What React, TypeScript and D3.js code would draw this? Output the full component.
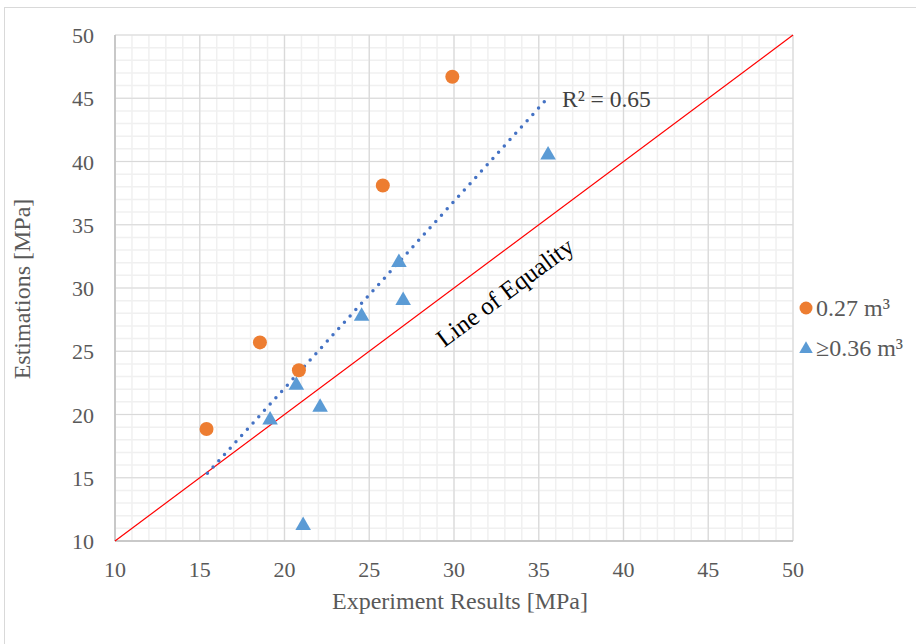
import * as d3 from 'd3'
import * as React from 'react'

//------------------------------data------------------------------
const orangeX = [15.4, 18.55, 20.85, 25.8, 29.9]
const orangeY = [18.85, 25.7, 23.5, 38.1, 46.7]
const blueX = [19.15, 20.7, 21.1, 22.1, 24.55, 26.75, 27.0, 35.55]
const blueY = [19.65, 22.4, 11.3, 20.65, 27.85, 32.1, 29.1, 40.6]
const trendX = [15.45, 35.55]
const trendY = [15.35, 45.05]
const equalityX = [10, 50]
const ticks = [10, 15, 20, 25, 30, 35, 40, 45, 50]
const legendLabels = ['0.27 m³', '≥0.36 m³']

const WIDTH = 916
const HEIGHT = 644
const M = { left: 115, top: 35, right: 793, bottom: 541 }
const FONT = '"Liberation Serif", "Times New Roman", serif'

export default function App() {
  const x = d3.scaleLinear().domain([10, 50]).range([M.left, M.right])
  const y = d3.scaleLinear().domain([10, 50]).range([M.bottom, M.top])
  const minor = d3.range(10, 51, 1)
  const tri = d3.symbol().type(d3.symbolTriangle).size(105)()
  const triSmall = d3.symbol().type(d3.symbolTriangle).size(80)()
  const line = d3.line<[number, number]>().x(d => x(d[0])).y(d => y(d[1]))
  const trendPts: [number, number][] = trendX.map((v, i) => [v, trendY[i]])
  const eqPts: [number, number][] = equalityX.map(v => [v, v])
  const angle = (Math.atan2(y(10) - y(50), x(50) - x(10)) * 180) / Math.PI

  return (
    <svg width={WIDTH} height={HEIGHT} style={{ position: 'absolute', left: 0, top: 0 }}>
      <rect x={0} y={0} width={WIDTH} height={HEIGHT} fill="#fff" />
      <rect x={4.5} y={7.5} width={WIDTH + 10} height={HEIGHT + 10} fill="none" stroke="#d9d9d9" />
      {/* minor grid */}
      {minor.map(v => (
        <g key={'m' + v}>
          <line x1={x(v)} x2={x(v)} y1={M.top} y2={M.bottom} stroke="#f0f0f0" strokeWidth={1.5} />
          <line x1={M.left} x2={M.right} y1={y(v)} y2={y(v)} stroke="#f0f0f0" strokeWidth={1.5} />
        </g>
      ))}
      {/* major grid */}
      {ticks.map(v => (
        <g key={'g' + v}>
          <line x1={x(v)} x2={x(v)} y1={M.top} y2={M.bottom} stroke="#d9d9d9" strokeWidth={1.2} />
          <line x1={M.left} x2={M.right} y1={y(v)} y2={y(v)} stroke="#d9d9d9" strokeWidth={1.2} />
        </g>
      ))}
      <line x1={M.left} x2={M.left} y1={M.top} y2={M.bottom} stroke="#bfbfbf" strokeWidth={1.5} />
      <line x1={M.left} x2={M.right} y1={M.bottom} y2={M.bottom} stroke="#bfbfbf" strokeWidth={1.5} />
      {/* tick labels */}
      {ticks.map(v => (
        <text key={'xt' + v} x={x(v)} y={577} textAnchor="middle" fontFamily={FONT} fontSize={22} fill="#595959">
          {v}
        </text>
      ))}
      {ticks.map(v => (
        <text key={'yt' + v} x={94} y={y(v) + 8} textAnchor="end" fontFamily={FONT} fontSize={22} fill="#595959">
          {v}
        </text>
      ))}
      <text x={460} y={609} textAnchor="middle" fontFamily={FONT} fontSize={24} fill="#595959">
        Experiment Results [MPa]
      </text>
      <text transform={`translate(30,289) rotate(-90)`} textAnchor="middle" fontFamily={FONT} fontSize={24} fill="#595959">
        Estimations [MPa]
      </text>
      {/* line of equality */}
      <path d={line(eqPts) || ''} stroke="#ff0000" strokeWidth={1.2} fill="none" />
      <text transform={`translate(510,299) rotate(${-angle})`} textAnchor="middle" fontFamily={FONT} fontSize={25} fill="#000">
        Line of Equality
      </text>
      {/* trendline */}
      <path d={line(trendPts) || ''} stroke="#4472c4" strokeWidth={3.5} strokeLinecap="round" strokeDasharray="0 8.5" fill="none" />
      <text x={562} y={107} fontFamily={FONT} fontSize={23.5} fill="#404040">
        R² = 0.65
      </text>
      {/* points */}
      {blueX.map((v, i) => (
        <path key={'b' + i} d={tri || ''} transform={`translate(${x(v)},${y(blueY[i]) + 1})`} fill="#5b9bd5" />
      ))}
      {orangeX.map((v, i) => (
        <circle key={'o' + i} cx={x(v)} cy={y(orangeY[i])} r={7} fill="#ed7d31" />
      ))}
      {/* legend */}
      <circle cx={806} cy={308} r={6.5} fill="#ed7d31" />
      <text x={816} y={316} fontFamily={FONT} fontSize={24} fill="#595959">{legendLabels[0]}</text>
      <path d={triSmall || ''} transform="translate(806,349)" fill="#5b9bd5" />
      <text x={816} y={356} fontFamily={FONT} fontSize={24} fill="#595959">{legendLabels[1]}</text>
    </svg>
  )
}
